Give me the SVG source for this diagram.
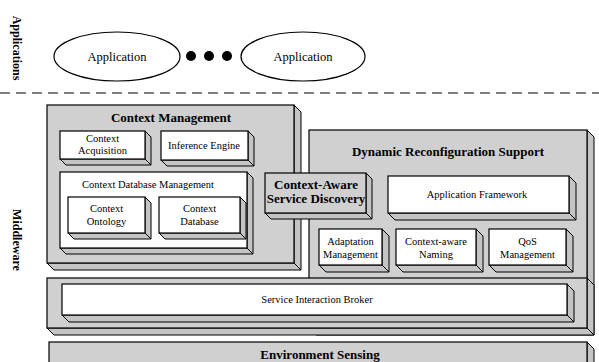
<svg xmlns="http://www.w3.org/2000/svg" width="599" height="362" viewBox="0 0 599 362">
<style>
.ext{fill:#c4c4c4;stroke:#000;stroke-width:1;stroke-linejoin:miter}
.fw{fill:#fff;stroke:#000;stroke-width:1.2}
.fg{fill:#d0d0d0;stroke:#000;stroke-width:1.2}
.cl{stroke:#000;stroke-width:1;fill:none}
text{font-family:"Liberation Serif","Times New Roman",serif;fill:#000;text-anchor:middle}
.s{font-size:10.5px}
.b{font-size:13px;font-weight:bold}
.a{font-size:12.5px}
.v{font-size:12px;font-weight:bold}
</style>
<rect width="599" height="362" fill="#fff"/>
<text class="v" transform="translate(17,48) rotate(90)" dy="4">Applications</text>
<text class="v" transform="translate(17,240) rotate(90)" dy="4">Middleware</text>
<g id="app1"><ellipse cx="117" cy="56.5" rx="63" ry="24.5" fill="#fff" stroke="#000" stroke-width="1.2"/><text class="a" x="117" y="61">Application</text></g>
<g id="dots"><circle cx="191" cy="56" r="5"/><circle cx="209" cy="56" r="5"/><circle cx="227" cy="56" r="5"/></g>
<g id="app2"><ellipse cx="303" cy="56.5" rx="62" ry="24.5" fill="#fff" stroke="#000" stroke-width="1.2"/><text class="a" x="303" y="61">Application</text></g>
<g id="connectors"><line x1="0" y1="93" x2="599" y2="93" stroke="#000" stroke-width="1.2" stroke-dasharray="10 6"/></g>
<g id="contextManagement">
<polygon class="ext" points="294,105 301,112 301,270 54,270 47,263 294,263"/><line class="cl" x1="294" y1="263" x2="301" y2="270"/>
<rect class="fg" x="47" y="105" width="247" height="158"/>
<text class="b" x="171" y="122">Context Management</text>
</g>
<g id="contextAcquisition">
<polygon class="ext" points="145,131 151,137 151,165 66,165 60,159 145,159"/><line class="cl" x1="145" y1="159" x2="151" y2="165"/>
<rect class="fw" x="60" y="131" width="85" height="28"/>
<text class="s" x="102.5" y="142">Context</text><text class="s" x="102.5" y="154">Acquisition</text>
</g>
<g id="inferenceEngine">
<polygon class="ext" points="248,131 254,137 254,166 167,166 161,160 248,160"/><line class="cl" x1="248" y1="160" x2="254" y2="166"/>
<rect class="fw" x="161" y="131" width="87" height="29"/>
<text class="s" x="204" y="149">Inference Engine</text>
</g>
<g id="contextDatabaseManagement">
<polygon class="ext" points="247,172 253,178 253,254 66,254 60,248 247,248"/><line class="cl" x1="247" y1="248" x2="253" y2="254"/>
<rect class="fw" x="60" y="172" width="187" height="76"/>
<text class="s" x="148" y="188">Context Database Management</text>
</g>
<g id="contextOntology">
<polygon class="ext" points="145,197 151,203 151,239 74,239 68,233 145,233"/><line class="cl" x1="145" y1="233" x2="151" y2="239"/>
<rect class="fw" x="68" y="197" width="77" height="36"/>
<text class="s" x="106.5" y="212">Context</text><text class="s" x="106.5" y="225">Ontology</text>
</g>
<g id="contextDatabase">
<polygon class="ext" points="240,197 246,203 246,239 165,239 159,233 240,233"/><line class="cl" x1="240" y1="233" x2="246" y2="239"/>
<rect class="fw" x="159" y="197" width="81" height="36"/>
<text class="s" x="199.5" y="212">Context</text><text class="s" x="199.5" y="225">Database</text>
</g>
<g id="dynamicReconfigurationSupport">
<polygon class="ext" points="587,130 594,137 594,335 316,335 309,328 587,328"/><line class="cl" x1="587" y1="328" x2="594" y2="335"/>
<rect class="fg" x="309" y="130" width="278" height="198"/>
<text class="b" x="448" y="156">Dynamic Reconfiguration Support</text>
</g>
<g id="contextAwareServiceDiscovery">
<polygon class="ext" points="366,173 372,179 372,219 271,219 265,213 366,213"/><line class="cl" x1="366" y1="213" x2="372" y2="219"/>
<rect class="fg" x="265" y="173" width="101" height="40"/>
<text class="b" x="316" y="189">Context-Aware</text><text class="b" x="316" y="203">Service Discovery</text>
</g>
<g id="applicationFramework">
<polygon class="ext" points="569,176 576,183 576,220 395,220 388,213 569,213"/><line class="cl" x1="569" y1="213" x2="576" y2="220"/>
<rect class="fw" x="388" y="176" width="181" height="37"/>
<text class="s" x="477" y="198">Application Framework</text>
</g>
<g id="adaptationManagement">
<polygon class="ext" points="382,229 389,236 389,272 326,272 319,265 382,265"/><line class="cl" x1="382" y1="265" x2="389" y2="272"/>
<rect class="fw" x="319" y="229" width="63" height="36"/>
<text class="s" x="350.5" y="245">Adaptation</text><text class="s" x="350.5" y="258">Management</text>
</g>
<g id="contextAwareNaming">
<polygon class="ext" points="476,229 483,236 483,272 403,272 396,265 476,265"/><line class="cl" x1="476" y1="265" x2="483" y2="272"/>
<rect class="fw" x="396" y="229" width="80" height="36"/>
<text class="s" x="436" y="245">Context-aware</text><text class="s" x="436" y="258">Naming</text>
</g>
<g id="qosManagement">
<polygon class="ext" points="566,229 573,236 573,272 496,272 489,265 566,265"/><line class="cl" x1="566" y1="265" x2="573" y2="272"/>
<rect class="fw" x="489" y="229" width="77" height="36"/>
<text class="s" x="527.5" y="245">QoS</text><text class="s" x="527.5" y="258">Management</text>
</g>
<g id="serviceInteractionBrokerLayer">
<polygon class="ext" points="587,278 594,285 594,335 54,335 47,328 587,328"/><line class="cl" x1="587" y1="328" x2="594" y2="335"/>
<rect class="fg" x="47" y="278" width="540" height="50"/>
</g>
<g id="serviceInteractionBroker">
<polygon class="ext" points="567,284 574,291 574,322 69,322 62,315 567,315"/><line class="cl" x1="567" y1="315" x2="574" y2="322"/>
<rect class="fw" x="62" y="284" width="505" height="31"/>
<text class="s" x="317" y="303">Service Interaction Broker</text>
</g>
<g id="environmentSensing">
<polygon class="ext" points="587,342 594,349 594,380 56,380 49,373 587,373"/>
<rect class="fg" x="49" y="342" width="538" height="31"/>
<text class="b" x="320" y="359">Environment Sensing</text>
</g>
</svg>
